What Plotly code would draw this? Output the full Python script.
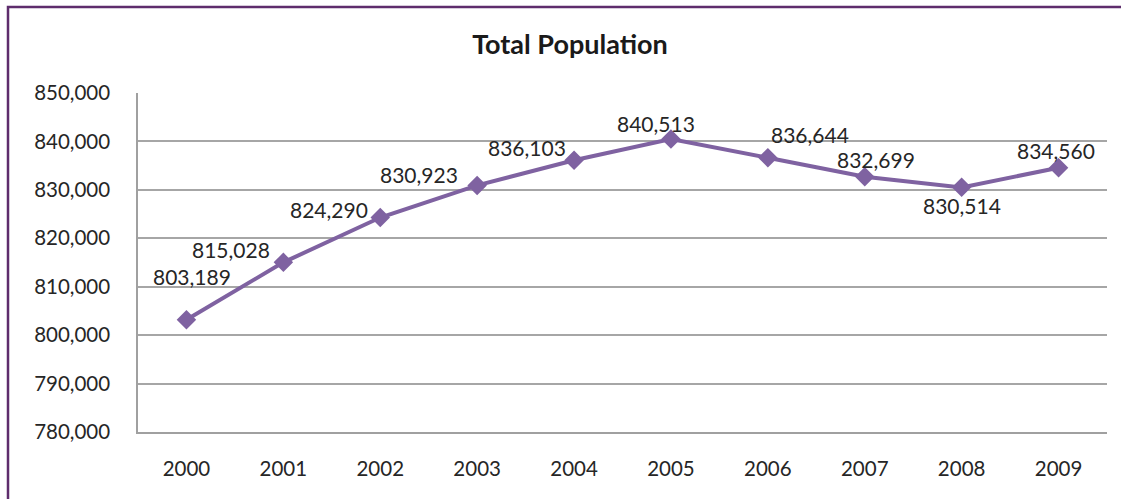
import plotly.graph_objects as go

years = ["2000", "2001", "2002", "2003", "2004", "2005", "2006", "2007", "2008", "2009"]
population = [803189, 815028, 824290, 830923, 836103, 840513, 836644, 832699, 830514, 834560]
y_ticks = [780000, 790000, 800000, 810000, 820000, 830000, 840000, 850000]

# label offsets (pixels) relative to each point
label_dx = [6, -52, -51, -58, -47, -15, 42, 11, 0, -3]
label_dy = [43, 13, 8, 11, 13, 15, 23, 17, -18, 17]

W, H = 1121, 499
L, R, T, B = 138, 14, 93, 67
pw, ph = W - L - R, H - T - B

fig = go.Figure()
fig.add_trace(go.Scatter(
    x=years, y=population, mode="lines+markers",
    line=dict(color="#7f62a1", width=4),
    marker=dict(symbol="diamond", size=15, color="#7f62a1"),
    hoverinfo="x+y",
))

for i, (yv, dx, dy) in enumerate(zip(population, label_dx, label_dy)):
    fig.add_annotation(x=i, y=yv, xref="x", yref="y", text=f"{yv:,}", showarrow=False,
                       xshift=dx, yshift=dy,
                       font=dict(family="Lato", size=21, color="#262626"))

def px_x(p):
    return (p - L) / pw

def px_y(p):
    return (H - B - p) / ph

fig.add_shape(type="rect", xref="paper", yref="paper",
              x0=px_x(8), x1=px_x(W + 20), y0=px_y(H + 20), y1=px_y(7),
              line=dict(color="#5e2d6c", width=2.5), fillcolor="rgba(0,0,0,0)", layer="below")

fig.update_layout(
    width=W, height=H,
    margin=dict(l=L, r=R, t=T, b=B),
    paper_bgcolor="white", plot_bgcolor="rgba(0,0,0,0)",
    showlegend=False,
    font=dict(family="Lato", size=20, color="#262626"),
    title=dict(text="<b>Total Population</b>", x=570 / W, xanchor="center",
               y=1 - 45 / H, yanchor="middle",
               font=dict(family="Lato", size=27, color="#1a1a1a")),
    xaxis=dict(type="category", range=[-0.5, 9.5], showgrid=False,
               showline=True, linecolor="#a0a0a0", linewidth=1.5,
               ticks="", ticklabelstandoff=18,
               tickfont=dict(family="Lato", size=20.5, color="#262626")),
    yaxis=dict(range=[780000, 850000], tickvals=y_ticks,
               tickformat=",d", showgrid=True, gridcolor="#a6a6a6", gridwidth=1.5,
               showline=True, linecolor="#a0a0a0", linewidth=1.5,
               zeroline=False, ticks="", ticklabelstandoff=22,
               tickfont=dict(family="Lato", size=20.5, color="#262626")),
)

fig.write_html("out.html", config={"displayModeBar": False},
               post_script="document.body.style.margin='0';")
